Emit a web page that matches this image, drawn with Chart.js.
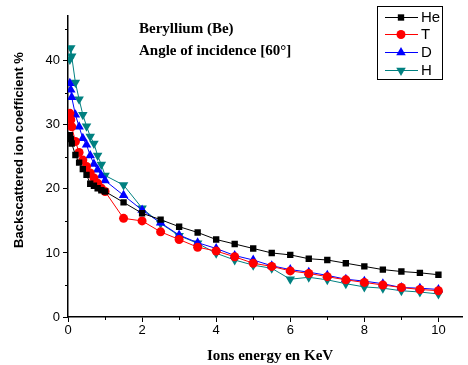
<!DOCTYPE html>
<html>
<head>
<meta charset="utf-8">
<script src="https://cdn.jsdelivr.net/npm/chart.js@4"></script>
<style>
  html, body { margin: 0; padding: 0; background: #fff; }
  #wrap { width: 468px; height: 365px; }
</style>
</head>
<body>
<div id="wrap"><canvas id="grafico" width="468" height="365"></canvas></div>
<script>
// energia de los iones (KeV)
const energias = [0.05, 0.075, 0.1, 0.2, 0.3, 0.4, 0.5, 0.6, 0.7, 0.8, 0.9, 1.0,
  1.5, 2, 2.5, 3, 3.5, 4, 4.5, 5, 5.5, 6, 6.5, 7, 7.5, 8, 8.5, 9, 9.5, 10];

const serieHe = [28.4, 27.8, 27.1, 25.3, 24.1, 23.1, 22.2, 20.8, 20.5, 20.1, 19.8, 19.6,
  17.9, 16.2, 15.2, 14.1, 13.2, 12.1, 11.4, 10.7, 10.0, 9.7, 9.1, 8.9, 8.4, 7.9, 7.4, 7.1, 6.9, 6.6];
const serieT = [31.8, 30.8, 29.7, 27.4, 25.7, 24.5, 23.5, 22.5, 21.7, 20.9, 20.1, 19.6,
  15.4, 15.0, 13.3, 12.1, 10.9, 10.3, 9.4, 8.4, 7.9, 7.2, 6.8, 6.3, 5.8, 5.4, 5.0, 4.6, 4.3, 4.1];
const serieD = [36.5, 35.5, 34.3, 31.6, 29.7, 27.9, 26.9, 25.2, 23.9, 23.0, 22.1, 21.3,
  19.0, 16.7, 14.7, 12.8, 11.6, 10.7, 9.6, 8.9, 8.0, 7.4, 7.0, 6.5, 5.9, 5.6, 5.2, 4.6, 4.5, 4.3];
const serieH = [40.2, 42.0, 40.7, 36.6, 34.0, 31.6, 29.8, 28.2, 27.1, 25.2, 23.8, 22.1,
  20.6, 17.0, 14.6, 12.7, 11.5, 9.95, 8.9, 8.1, 7.6, 5.9, 6.2, 5.8, 5.2, 4.7, 4.5, 4.1, 3.9, 3.6];

const nombres = ['He', 'T', 'D', 'H'];
const xTicks = [0, 2, 4, 6, 8, 10];
const yTicks = [0, 10, 20, 30, 40];

const estilos = [
  { color: '#000000', punto: 'rect', rot: 0, r: 4.5 },
  { color: '#ff0000', punto: 'circle', rot: 0, r: 4.5 },
  { color: '#0000ff', punto: 'triangle', rot: 0, r: 5.5 },
  { color: '#008080', punto: 'triangle', rot: 180, r: 5.5 }
];

const valores = [serieHe, serieT, serieD, serieH];

const datasets = valores.map((serie, i) => ({
  label: nombres[i],
  data: serie.map((v, k) => ({ x: energias[k], y: v })),
  borderColor: estilos[i].color,
  backgroundColor: estilos[i].color,
  borderWidth: 1,
  pointStyle: estilos[i].punto,
  pointRotation: estilos[i].rot,
  pointRadius: estilos[i].r,
  pointBorderWidth: 0,
  tension: 0
}));

// Plugin: ticks menores, titulos, anotacion y leyenda
const extras = {
  id: 'extras',
  afterDraw(chart) {
    const { ctx, scales: { x, y } } = chart;
    ctx.save();
    ctx.strokeStyle = '#000';
    ctx.lineWidth = 1;
    // ticks menores
    for (let v = 1; v <= 10; v += 2) {
      const px = Math.round(x.getPixelForValue(v)) + 0.5;
      ctx.beginPath(); ctx.moveTo(px, y.bottom); ctx.lineTo(px, y.bottom + 3); ctx.stroke();
    }
    for (let v = 5; v <= 45; v += 10) {
      const py = Math.round(y.getPixelForValue(v)) + 0.5;
      ctx.beginPath(); ctx.moveTo(x.left, py); ctx.lineTo(x.left - 3, py); ctx.stroke();
    }

    // titulo eje Y
    ctx.fillStyle = '#000';
    ctx.font = 'bold 13px "Liberation Sans", Arial, sans-serif';
    ctx.textAlign = 'center';
    ctx.textBaseline = 'middle';
    ctx.translate(19, 150);
    ctx.rotate(-Math.PI / 2);
    ctx.fillText('Backscattered ion coefficient %', 0, 0);
    ctx.setTransform(1, 0, 0, 1, 0, 0);

    // titulo eje X
    ctx.font = 'bold 15px "Liberation Serif", "Times New Roman", serif';
    ctx.fillText('Ions energy en KeV', 270, 356);

    // anotacion
    ctx.textAlign = 'left';
    ctx.font = 'bold 15px "Liberation Serif", "Times New Roman", serif';
    ctx.fillText('Beryllium (Be)', 139, 29);
    ctx.fillText('Angle of incidence [60\u00B0]', 139, 51);

    // leyenda
    ctx.lineWidth = 1;
    ctx.strokeRect(377.5, 6.5, 65, 73);
    ctx.font = '15px "Liberation Sans", Arial, sans-serif';
    const filas = [17, 34, 52, 70];
    filas.forEach((fy, i) => {
      const e = estilos[i];
      ctx.strokeStyle = e.color;
      ctx.beginPath(); ctx.moveTo(385, fy + 0.5); ctx.lineTo(418, fy + 0.5); ctx.stroke();
      ctx.fillStyle = e.color;
      Chart.helpers.drawPoint(ctx, { pointStyle: e.punto, rotation: e.rot, radius: e.r, borderWidth: 0 }, 401, fy + 0.5);
      ctx.fillStyle = '#000';
      ctx.fillText(nombres[i], 421, fy + 1);
    });
    ctx.restore();
  }
};

new Chart(document.getElementById('grafico').getContext('2d'), {
  type: 'line',
  data: { datasets },
  options: {
    responsive: false,
    animation: false,
    layout: { padding: { top: 16, right: 0, left: 0, bottom: 0 } },
    plugins: { legend: { display: false }, tooltip: { enabled: false } },
    scales: {
      x: {
        type: 'linear',
        min: 0, max: 10.65,
        afterBuildTicks: s => { s.ticks = xTicks.map(v => ({ value: v })); },
        afterFit: s => { s.height = 48; },
        border: { color: '#000', width: 1.5 },
        grid: { drawOnChartArea: false, color: '#000', tickLength: 5 },
        ticks: { color: '#000', font: { family: '"Liberation Sans", Arial', size: 13 }, padding: 1 }
      },
      y: {
        type: 'linear',
        min: 0, max: 47,
        afterBuildTicks: s => { s.ticks = yTicks.map(v => ({ value: v })); },
        afterFit: s => { s.width = 68; },
        border: { color: '#000', width: 1.5 },
        grid: { drawOnChartArea: false, color: '#000', tickLength: 5 },
        ticks: { color: '#000', font: { family: '"Liberation Sans", Arial', size: 13 }, padding: 3 }
      }
    }
  },
  plugins: [extras]
});
</script>
</body>
</html>
